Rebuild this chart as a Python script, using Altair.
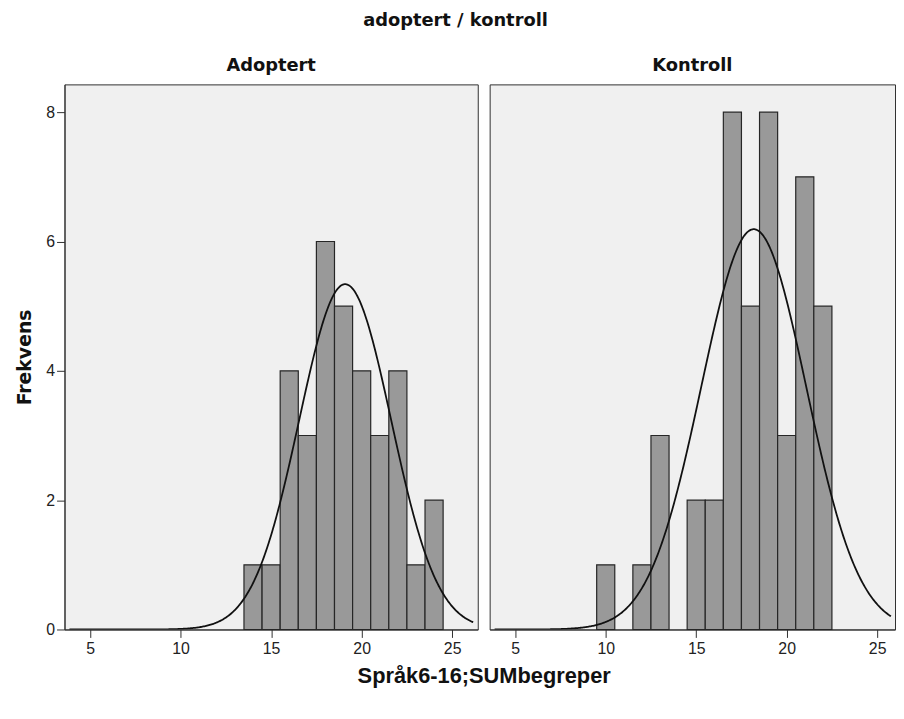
import altair as alt
import pandas as pd

# ---- data ----
panel_names = ["Adoptert", "Kontroll"]
adopt_bins = [14, 15, 16, 17, 18, 19, 20, 21, 22, 23, 24]
adopt_counts = [1, 1, 4, 3, 6, 5, 4, 3, 4, 1, 2]
kontroll_bins = [10, 12, 13, 15, 16, 17, 18, 19, 20, 21, 22]
kontroll_counts = [1, 1, 3, 2, 2, 8, 5, 8, 3, 7, 5]
# fitted normal curve parameters (mean, sd, N) per group
curve_mean = [19.09, 18.18]
curve_sd = [2.54, 2.90]
curve_n = [34, 45]

x_ticks = [5, 10, 15, 20, 25]
y_ticks = [0, 2, 4, 6, 8]
main_title = "adoptert / kontroll"
x_title = "Språk6-16;SUMbegreper"
y_title = "Frekvens"

X_MIN = 3.86
Y_MAX = 8.43
PANEL_H = 550
W_LEFT = 417
W_RIGHT = 409
PX_PER_UNIT = W_LEFT / (26.14 - X_MIN)

TITLE_FONT = "DejaVu Sans"
LABEL_FONT = "Liberation Sans"
DARK = "#303030"


def panel(name, bins, counts, mu, sd, n, width, first):
    xmax = X_MIN + width / PX_PER_UNIT
    df = pd.DataFrame({"bin": bins, "count": counts})
    x_scale = alt.Scale(domain=[X_MIN, xmax], nice=False, zero=False)
    y_scale = alt.Scale(domain=[0, Y_MAX], nice=False, zero=True)

    xaxis_kw = dict(
        values=x_ticks, grid=False, tickSize=8, tickColor=DARK, domainColor=DARK,
        labelFont=LABEL_FONT, labelFontSize=16, labelColor="#222222", labelPadding=3,
        labelFlush=False,
    )
    if first:
        xaxis_kw.update(
            title=x_title, titleFont=LABEL_FONT, titleFontSize=22, titleFontWeight="bold",
            titleColor="#111111", titleX=(487 - 64), titleAlign="center", titlePadding=10,
        )
    xaxis = alt.Axis(**xaxis_kw)

    if first:
        yaxis = alt.Axis(
            values=y_ticks, grid=False, tickSize=8, tickColor=DARK, domainColor=DARK,
            labelFont=LABEL_FONT, labelFontSize=16, labelColor="#222222", labelPadding=2,
            title=y_title, titleFont=TITLE_FONT, titleFontSize=19, titleFontWeight="bold",
            titleColor="#111111", titlePadding=11,
        )
    else:
        yaxis = None

    bars = (
        alt.Chart(df)
        .transform_calculate(lo="datum.bin - 0.5", hi="datum.bin + 0.5", base="0")
        .mark_bar(fill="#999999", stroke="#262626", strokeWidth=1.2, orient="vertical")
        .encode(
            x=alt.X("lo:Q", scale=x_scale, axis=xaxis, title=x_title if first else " "),
            x2="hi:Q",
            y=alt.Y("count:Q", scale=y_scale, axis=yaxis),
            y2="base:Q",
        )
    )
    curve = (
        alt.Chart(alt.sequence(X_MIN, xmax + 0.05, 0.05, as_="x"))
        .transform_calculate(
            y=f"{n} / ({sd} * sqrt(2 * PI)) * exp(-0.5 * pow((datum.x - {mu}) / {sd}, 2))"
        )
        .mark_line(color="#111111", strokeWidth=1.8, clip=True)
        .encode(
            x=alt.X("x:Q", scale=x_scale, axis=xaxis, title=x_title if first else " "),
            y=alt.Y("y:Q", scale=y_scale, axis=yaxis),
        )
    )
    return alt.layer(bars, curve).properties(
        width=width,
        height=PANEL_H,
        title=alt.TitleParams(
            name, font=TITLE_FONT, fontSize=18, fontWeight="bold", color="#111111",
            anchor="middle", offset=10,
        ),
    )


left = panel(panel_names[0], adopt_bins, adopt_counts, curve_mean[0], curve_sd[0], curve_n[0], W_LEFT, True)
right = panel(panel_names[1], kontroll_bins, kontroll_counts, curve_mean[1], curve_sd[1], curve_n[1], W_RIGHT, False)

chart = (
    alt.hconcat(
        left, right, spacing=12, bounds="flush",
        title=alt.TitleParams(
            main_title, font=TITLE_FONT, fontSize=18, fontWeight="bold", color="#111111",
            anchor="middle", offset=26,
        ),
        padding={"left": 7, "top": 1, "right": 0, "bottom": 0},
    )
    .configure(background="white")
    .configure_view(fill="#F0F0F0", stroke=DARK, strokeWidth=1)
)

chart.save("out.html", embed_options={"renderer": "svg", "actions": False})
